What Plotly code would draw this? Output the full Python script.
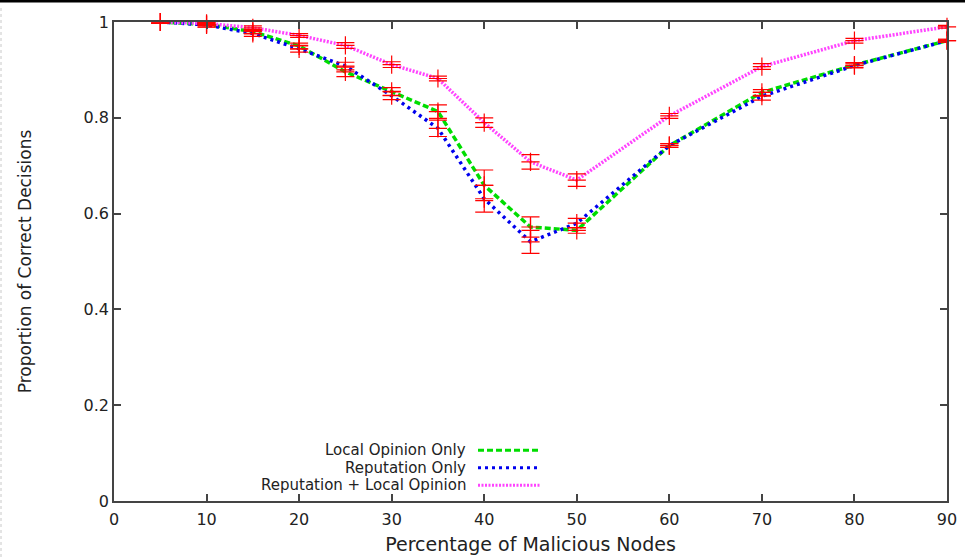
import plotly.graph_objects as go

# ---- data ----
malicious_pct = [5, 10, 15, 20, 25, 30, 35, 40, 45, 50, 60, 70, 80, 90]

local_only = [1.000, 0.995, 0.980, 0.950, 0.896, 0.855, 0.813, 0.659, 0.572, 0.565, 0.742, 0.853, 0.910, 0.961]
local_only_err = [0.003, 0.005, 0.005, 0.006, 0.010, 0.008, 0.014, 0.032, 0.021, 0.006, 0.004, 0.006, 0.005, 0.003]

reputation_only = [1.000, 0.994, 0.976, 0.944, 0.908, 0.846, 0.778, 0.631, 0.541, 0.580, 0.742, 0.845, 0.909, 0.961]
reputation_only_err = [0.003, 0.005, 0.006, 0.007, 0.008, 0.008, 0.017, 0.028, 0.024, 0.010, 0.004, 0.008, 0.005, 0.003]

rep_plus_local = [1.000, 0.997, 0.988, 0.972, 0.951, 0.911, 0.882, 0.790, 0.708, 0.670, 0.804, 0.907, 0.961, 0.990]
rep_plus_local_err = [0.003, 0.004, 0.004, 0.004, 0.006, 0.006, 0.005, 0.010, 0.015, 0.013, 0.005, 0.006, 0.005, 0.003]

series_names = ["Local Opinion Only", "Reputation Only", "Reputation + Local Opinion"]
series_values = [local_only, reputation_only, rep_plus_local]
series_errors = [local_only_err, reputation_only_err, rep_plus_local_err]

x_ticks = [0, 10, 20, 30, 40, 50, 60, 70, 80, 90]
y_ticks = [0, 0.2, 0.4, 0.6, 0.8, 1]
y_tick_labels = ["0", "0.2", "0.4", "0.6", "0.8", "1"]

# ---- styles ----
colors = ["#00dd00", "#0000ee", "#ff44ff"]
dashes = ["6px,3px", "3px,4px", "2px,1.5px"]
FONT = "DejaVu Sans"

fig = go.Figure()

for name, vals, col, dsh in zip(series_names, series_values, colors, dashes):
    fig.add_trace(go.Scatter(
        x=malicious_pct, y=vals, mode="lines", name=name,
        line=dict(color=col, width=3.5, dash=dsh),
        showlegend=False, cliponaxis=False,
    ))

for name, vals, errs in zip(series_names, series_values, series_errors):
    fig.add_trace(go.Scatter(
        x=malicious_pct, y=vals, mode="markers", name=name + " error",
        marker=dict(symbol="cross-thin", size=13, color="#ff0000",
                    line=dict(color="#ff0000", width=1.2)),
        error_y=dict(type="data", array=errs, visible=True, color="#ff0000",
                     thickness=1.2, width=9),
        showlegend=False, cliponaxis=False,
    ))

# ---- gnuplot-style legend (text right-aligned, sample on the right) ----
PLOT_L, PLOT_R, PLOT_T, PLOT_B = 114, 947, 22, 500.7
W, H = PLOT_R - PLOT_L, PLOT_B - PLOT_T
def px_x(p):
    return (p - PLOT_L) / W
def px_y(p):
    return (PLOT_B - p) / H

legend_rows = [450.0, 467.5, 485.0]
for name, col, dsh, row in zip(series_names, colors, dashes, legend_rows):
    fig.add_annotation(
        x=px_x(467), y=px_y(row), xref="paper", yref="paper",
        text=name, showarrow=False, xanchor="right", yanchor="middle",
        font=dict(family=FONT, size=15, color="#222222"),
        borderpad=0,
    )
    fig.add_shape(
        type="line", xref="paper", yref="paper",
        x0=px_x(478), x1=px_x(541), y0=px_y(row), y1=px_y(row),
        line=dict(color=col, width=3, dash=dsh),
    )

# screenshot frame artifacts: black bar on top, dashed grey edge on left
fig.add_shape(type="rect", xref="paper", yref="paper",
              x0=px_x(0), x1=px_x(965), y0=px_y(2.5), y1=px_y(0),
              fillcolor="#000000", line=dict(width=0), layer="above")
fig.add_shape(type="line", xref="paper", yref="paper",
              x0=px_x(1), x1=px_x(1), y0=px_y(8), y1=px_y(557),
              line=dict(color="#c8c8c8", width=1, dash="3px,3px"))

axis_common = dict(
    showgrid=False, zeroline=False, showline=True, linecolor="#444444",
    linewidth=1.5, mirror="ticks", ticks="inside", ticklen=7,
    tickwidth=1.5, tickcolor="#444444", automargin=False,
    tickfont=dict(family=FONT, size=16, color="#222222"),
)

fig.update_layout(
    width=965, height=557,
    margin=dict(l=PLOT_L, r=965 - PLOT_R, t=PLOT_T, b=557 - PLOT_B),
    paper_bgcolor="white", plot_bgcolor="white",
    showlegend=False,
    xaxis=dict(range=[0, 90], tickvals=x_ticks, ticklabelstandoff=3,
               title=dict(text="Percentage of Malicious Nodes", standoff=10,
                          font=dict(family=FONT, size=19, color="#222222")),
               **axis_common),
    yaxis=dict(range=[0, 1], tickvals=y_ticks, ticktext=y_tick_labels,
               title=dict(text="Proportion of Correct Decisions", standoff=48,
                          font=dict(family=FONT, size=17, color="#222222")),
               **axis_common),
)

fig.write_html("out.html")
